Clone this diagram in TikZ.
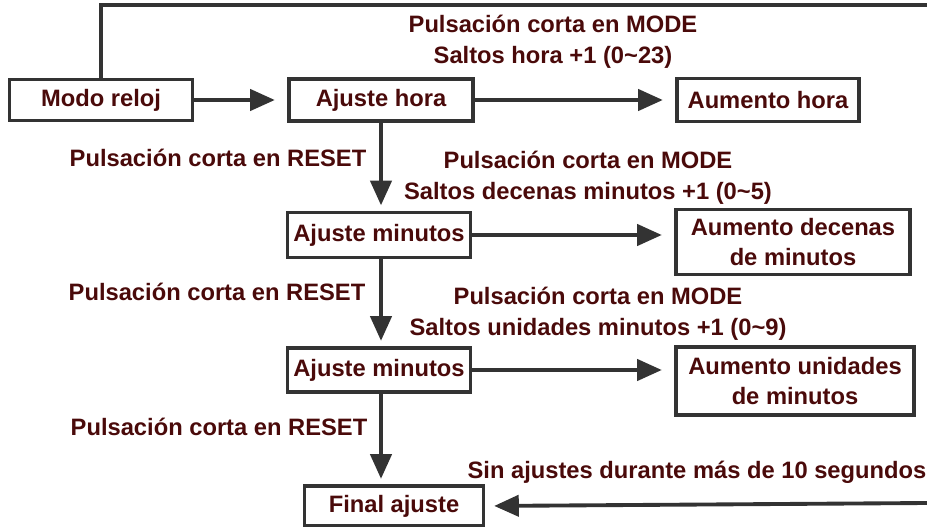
\documentclass[tikz,border=0pt]{standalone}
\usepackage{fontspec}
\setmainfont{Liberation Sans}
\usetikzlibrary{arrows.meta}
\definecolor{txtred}{HTML}{4A0A0A}
\definecolor{linegray}{HTML}{333333}

\begin{document}
\begin{tikzpicture}[x=0.02cm, y=-0.02cm,
        box/.style={draw=linegray, line width=2.2pt, fill=white, text=txtred, align=center,
            font=\fontsize{13.5}{17.5}\selectfont\bfseries, inner sep=0pt},
        lbl/.style={text=txtred, align=center, font=\fontsize{13.5}{17.5}\selectfont\bfseries, inner sep=0pt},
        arr/.style={line width=2.2pt, draw=linegray, -{Triangle[length=14pt, width=12pt]}, shorten >=7pt}]
        \useasboundingbox (0,0) rectangle (927,527);

        % Boxes in the left column
        \node[box, minimum width=3.66cm, minimum height=0.82cm] (modo) at (101, 100) {Modo reloj};
        \node[box, minimum width=3.68cm, minimum height=0.84cm] (hora) at (381, 100) {Ajuste hora};
        \node[box, minimum width=3.66cm, minimum height=0.90cm] (min1) at (379, 235) {Ajuste minutos};
        \node[box, minimum width=3.66cm, minimum height=0.88cm] (min2) at (379, 370) {Ajuste minutos};
        \node[box, minimum width=3.58cm, minimum height=0.80cm] (fin) at (394, 506) {Final ajuste};

        % Boxes in the right column
        \node[box, minimum width=3.64cm, minimum height=0.86cm] (aumhora) at (768, 100) {Aumento hora};
        \node[box, minimum width=4.68cm, minimum height=1.30cm] (aumdec) at (793, 242) {Aumento decenas\\de minutos};
        \node[box, minimum width=4.76cm, minimum height=1.36cm] (aumuni) at (795, 381) {Aumento unidades\\de minutos};

        % Free ends at the border
        \coordinate (topR) at (927, 5);
        \coordinate (botR) at (927, 503);

        % Labels
        \node[lbl] (modeH) at (553, 42) {Pulsación corta en MODE\\Saltos hora +1 (0\textasciitilde 23)};
        \node[lbl] (reset1) at (218, 158) {Pulsación corta en RESET};
        \node[lbl] (modeD) at (588, 178) {Pulsación corta en MODE\\Saltos decenas minutos +1 (0\textasciitilde 5)};
        \node[lbl] (reset2) at (217, 292) {Pulsación corta en RESET};
        \node[lbl] (modeU) at (598, 314) {Pulsación corta en MODE\\Saltos unidades minutos +1 (0\textasciitilde 9)};
        \node[lbl] (reset3) at (219, 427) {Pulsación corta en RESET};
        \node[lbl] (timeout) at (697, 472) {Sin ajustes durante más de 10 segundos};

        % Arrows
        \draw[line width=2.2pt, linegray] (modo.north) |- (topR); % line along the top
        \draw[arr] (modo) -- (hora); % Modo reloj to Ajuste hora
        \draw[arr] (hora) -- (aumhora);
        \draw[arr, shorten >=3pt] (hora.south) -- (hora.south |- min1.north);
        \draw[arr] (min1) -- (min1 -| aumdec.west);
        \draw[arr, shorten >=3pt] (hora.south |- min1.south) -- (hora.south |- min2.north);
        \draw[arr] (min2) -- (min2 -| aumuni.west);
        \draw[arr, shorten >=3pt] (hora.south |- min2.south) -- (hora.south |- fin.north);
        \draw[arr, shorten >=5pt] (botR) -- (fin.east); % timeout back to Final ajuste
    \end{tikzpicture}
\end{document}
